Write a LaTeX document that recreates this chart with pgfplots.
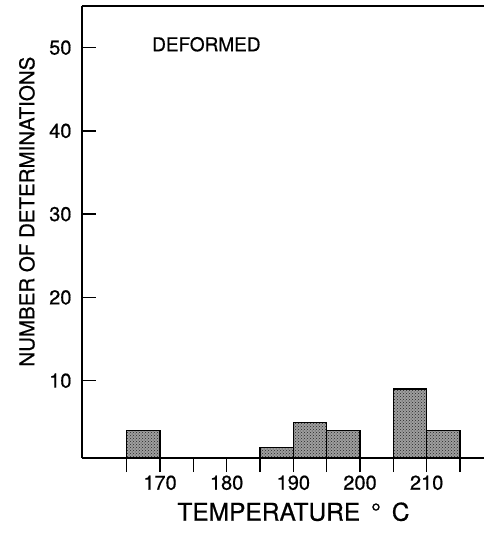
\documentclass[border=0pt]{standalone}
\usepackage{fontspec}
\setmainfont[FakeBold=0.6]{TeX Gyre Heros}
\usepackage{pgfplots}
\pgfplotsset{compat=1.18}
\usetikzlibrary{patterns}
\begin{document}
\begin{tikzpicture}
\begin{axis}[
  scale only axis,
  width=402pt, height=452pt,
  xmin=158.3, xmax=218.6,
  ymin=0.72, ymax=55,
  axis lines*=left,
  axis line style={line width=1.6pt, black},
  /pgf/number format/assume math mode=true,
  tick align=inside,
  major tick length=14pt,
  xtick={165,170,...,215},
  xticklabels={,170,,180,,190,,200,,210,},
  xtick style={line width=1.5pt, black, yshift=-14pt},
  ytick={10,20,30,40,50},
  ytick style={line width=1.5pt, black},
  xticklabel style={font=\fontsize{20}{23}\selectfont, yshift=-14pt},
  yticklabel style={font=\fontsize{20}{23}\selectfont, xshift=-7pt},
  xlabel={TEMPERATURE \,°\, C},
  xlabel style={font=\fontsize{24.5}{27}\selectfont, at={(axis description cs:0.526,-0.119)}, anchor=center},
  ylabel={NUMBER OF DETERMINATIONS},
  ylabel style={font=\fontsize{20.5}{23}\selectfont, at={(axis description cs:-0.137,0.545)}, anchor=center, rotate=0},
  clip=true,
]
\addplot[ybar, bar width=5, bar shift=0pt, draw=black, line width=1.4pt,
  fill=black!38, postaction={pattern=crosshatch dots, pattern color=black!85}]
  coordinates {(167.5,4) (187.5,2) (192.5,5) (197.5,4) (207.5,9) (212.5,4)};
\draw[line width=1.6pt] (rel axis cs:0,1) -- (rel axis cs:1,1);
\node[anchor=west, font=\fontsize{19}{22}\selectfont, inner sep=0pt] at (axis cs:168.8,50.4) {DEFORMED};
\end{axis}
\pgfresetboundingbox
\useasboundingbox (-82pt,-75pt) rectangle (402pt,458pt);
\end{tikzpicture}
\end{document}
